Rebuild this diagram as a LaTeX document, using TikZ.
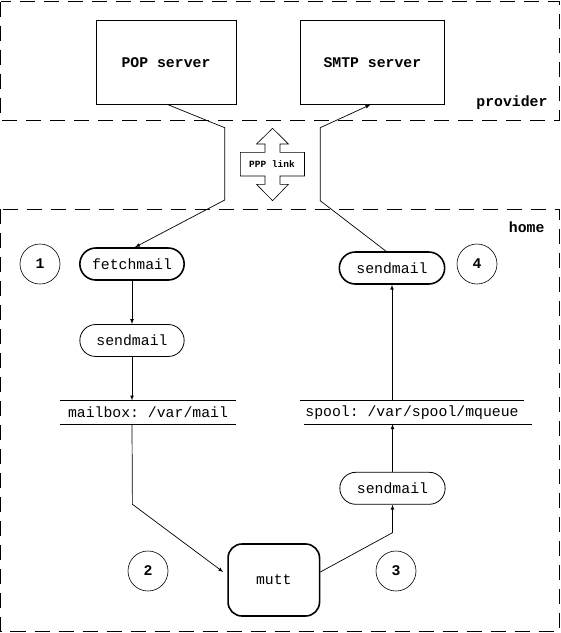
\documentclass[tikz,border=0pt]{standalone}
\usepackage{fontspec}
\setmonofont{Liberation Mono}
\usetikzlibrary{shapes.misc,arrows}
\newcommand\diagfont{\ttfamily\fontsize{14.8}{16}\selectfont}
\tikzset{>=latex}
\tikzset{
  zone/.style={dash pattern=on 15pt off 9pt,line width=0.9pt},
  zone label/.style={anchor=east,font=\diagfont\bfseries},
  server/.style={draw,rectangle,line width=0.8pt,minimum height=83.6pt,font=\diagfont\bfseries},
  prog/.style={draw,rounded rectangle,line width=0.8pt,minimum width=112pt,minimum height=32pt},
  active/.style={prog,line width=1.6pt},
  step number/.style={draw,circle,line width=0.6pt,minimum size=40pt,inner sep=0pt,font=\diagfont\bfseries},
  store/.style={inner sep=0pt,minimum height=23.3pt},
  flow/.style={->,line width=0.7pt},
}

\begin{document}
\begin{tikzpicture}[x=1pt,y=-1pt,font=\diagfont]
  \useasboundingbox (0,0) rectangle (561,633);
  % Zones
  \draw[zone] (0.5,1.5) rectangle (559,120);
  \draw[zone] (0.5,209) rectangle (559,631);
  \node[zone label] (provider) at (551,103) {provider};
  \node[zone label] (home) at (548,227) {home};
  % Servers
  \node[server,minimum width=140pt] (pop) at (166,62.5) {POP server};
  \node[server,minimum width=144pt] (smtp) at (372.4,62.5) {SMTP server};
  % PPP link
  \draw[line width=0.6pt] (272.6,128.3) -- (256.5,144) -- (265,144) -- (265,152.3) -- (240.4,152.3)
    -- (240.4,176) -- (265,176) -- (265,184.3) -- (256.5,184.3) -- (272.6,200.7) -- (288.4,184.3)
    -- (280,184.3) -- (280,176) -- (304.5,176) -- (304.5,152.3) -- (280,152.3) -- (280,144)
    -- (288.4,144) -- cycle;
  \node[font=\ttfamily\bfseries\fontsize{9.5}{10}\selectfont] (ppp) at (272,164) {PPP link};
  % Programs
  \node[active,minimum width=111pt] (fetch) at (132,264) {fetchmail};
  \node[prog,minimum width=111pt] (sendin) at (132,340.5) {sendmail};
  \node[prog] (sendout) at (392.5,488.3) {sendmail};
  \node[active] (sendnet) at (392,268) {sendmail};
  \node[draw,rectangle,rounded corners=14pt,line width=1.6pt,minimum width=91.5pt,minimum height=72pt] (mutt) at (273.8,580) {mutt};
  % Stores
  \node[store,minimum width=176pt] (mbox) at (148,412.3) {mailbox: /var/mail};
  \draw[line width=0.7pt] (mbox.north west) -- (mbox.north east);
  \draw[line width=0.7pt] (mbox.south west) -- (mbox.south east);
  \node[store,minimum width=224pt] (spool) at (412,412.3) {spool: /var/spool/mqueue};
  \draw[line width=0.7pt] (spool.north west) -- (spool.north east);
  \draw[line width=0.7pt] ([xshift=4pt]spool.south west) -- ([xshift=8pt]spool.south east);
  % Steps
  \node[step number] (one) at (40,264) {1};
  \node[step number] (two) at (148,571) {2};
  \node[step number] (three) at (396,571) {3};
  \node[step number] (four) at (477,264) {4};
  % Mail flow
  \draw[flow] ([xshift=2pt]pop.south) -- (224.7,127.7) -- (224.7,200) -- ([xshift=3pt]fetch.north);
  \draw[flow] ([xshift=-6pt]sendnet.north) -- (320.2,200.7) -- (320.2,127.7) -- ([xshift=-2pt]smtp.south);
  \draw[flow] (fetch.south) -- (sendin.north);
  \draw[flow] (sendin.south) -- (sendin.south |- mbox.north);
  \draw[flow] (sendin.south |- mbox.south) -- (132.4,504.3) -- ([xshift=-4pt,yshift=8pt]mutt.west);
  \draw[flow] ([yshift=8pt]mutt.east) -- (392.5,532.7) -- (sendout.south);
  \draw[flow] (sendout.north) -- (sendout.north |- spool.south);
  \draw[flow] (sendnet.south |- spool.north) -- (sendnet.south);
\end{tikzpicture}
\end{document}
